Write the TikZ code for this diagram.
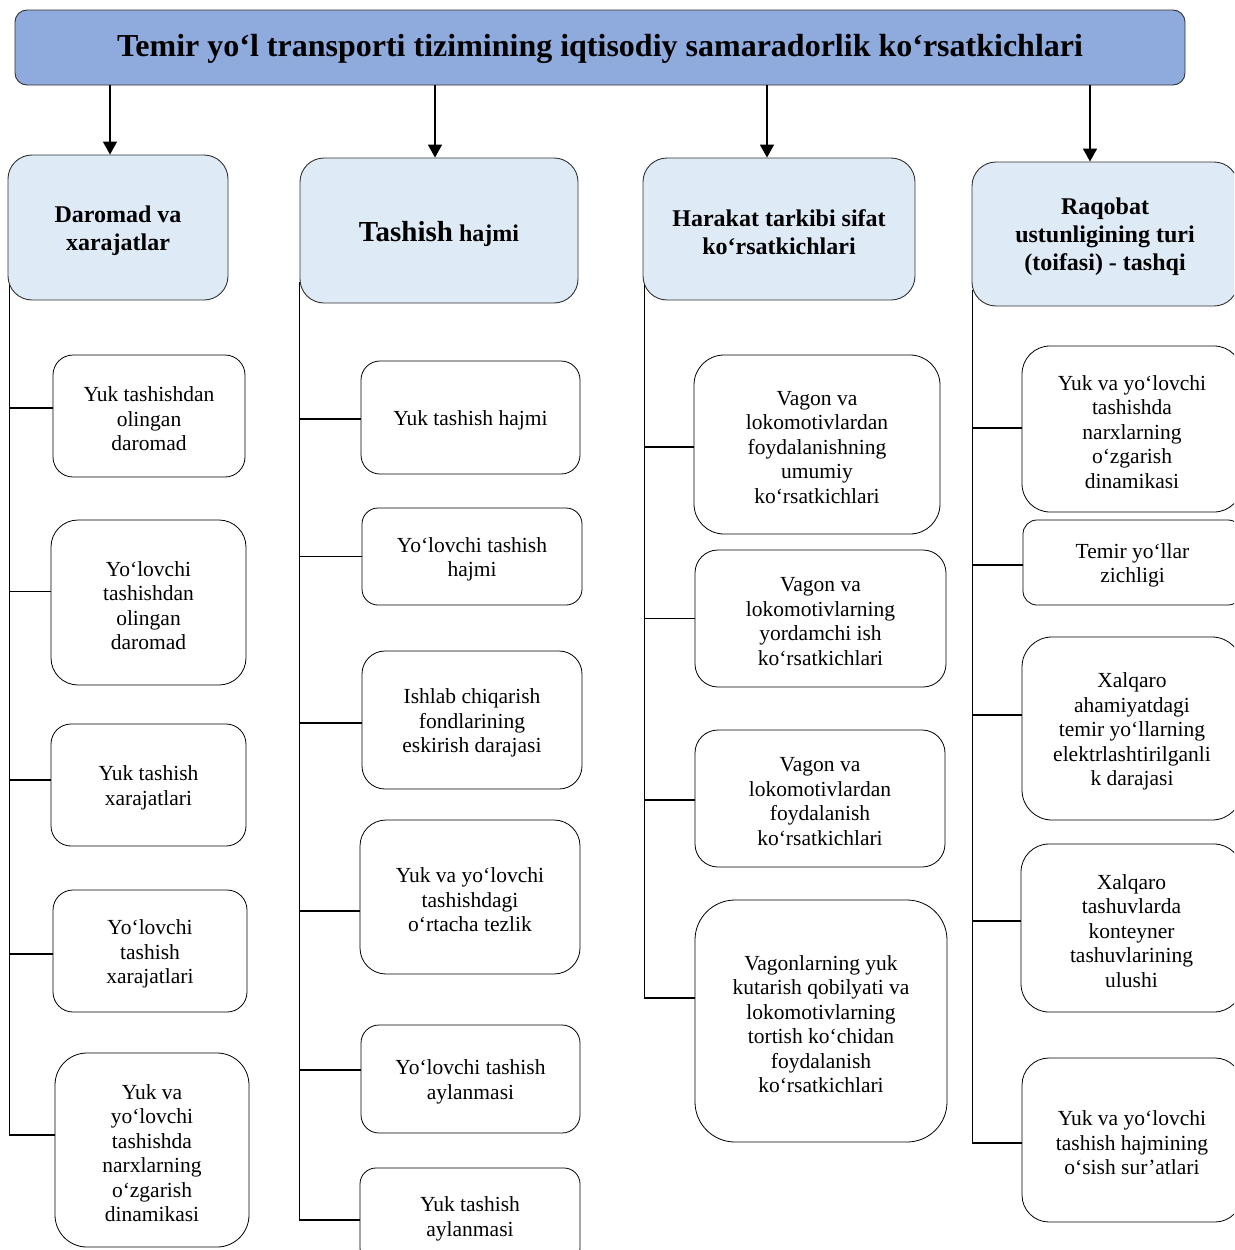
\documentclass[tikz,border=0pt]{standalone}
\usepackage{fontspec}
\setmainfont{Liberation Serif}
\usetikzlibrary{arrows.meta}
\definecolor{titleblue}{RGB}{143,170,220}
\definecolor{headblue}{RGB}{222,234,246}
\definecolor{edgegray}{RGB}{50,50,50}
\tikzset{
  leaf/.style={draw=black, line width=0.8pt, fill=white, inner sep=0pt},
  leaftext/.style={align=center, inner sep=0pt, yshift=-3pt,
    font=\fontsize{21.5}{24.5}\selectfont},
  head/.style={draw=edgegray, line width=0.9pt, fill=headblue, inner sep=0pt},
  headtext/.style={align=center, inner sep=0pt, yshift=-3pt,
    font=\bfseries\fontsize{24}{28}\selectfont},
  titlebox/.style={draw=edgegray, line width=0.9pt, fill=titleblue, inner sep=0pt},
  titleboxtext/.style={align=center, inner sep=0pt, yshift=-1pt,
    font=\bfseries\fontsize{32}{36}\selectfont},
  conn/.style={draw=black, line width=1.6pt},
  arr/.style={draw=black, line width=1.6pt, -{Triangle[width=14pt,length=13pt]}}
}
% name, x1, y1, x2, y2, radius, style, text
\newcommand\pbox[8]{%
  \node[#7, rounded corners=#6pt, minimum width={(#4)-(#2)}, minimum height={(#5)-(#3)},
        label={[#7text]center:{#8}}]
    (#1) at ({((#2)+(#4))/2},{((#3)+(#5))/2}) {};}
\begin{document}
\begin{tikzpicture}[x=1pt,y=-1pt]
\useasboundingbox (0,0) rectangle (1234,1250);
\clip (0,0) rectangle (1234,1250);

% title
\pbox{title}{15}{10}{1185}{85}{12}{titlebox}{Temir yo‘l transporti tizimining iqtisodiy samaradorlik ko‘rsatkichlari}

% headers
\pbox{h1}{8}{155}{228}{300}{24}{head}{Daromad va\\xarajatlar}
\pbox{h2}{300}{158}{578}{303}{24}{head}{{\fontsize{29}{30}\selectfont Tashish} hajmi}
\pbox{h3}{643}{158}{915}{300}{24}{head}{Harakat tarkibi sifat\\ko‘rsatkichlari}
\pbox{h4}{972}{162}{1238}{306}{24}{head}{Raqobat\\ustunligining turi\\(toifasi) - tashqi}

% arrows
\draw[arr] ([xshift=-8pt]h1.north |- title.south) -- ([xshift=-8pt]h1.north);
\draw[arr] ([xshift=-4pt]h2.north |- title.south) -- ([xshift=-4pt]h2.north);
\draw[arr] ([xshift=-12pt]h3.north |- title.south) -- ([xshift=-12pt]h3.north);
\draw[arr] ([xshift=-15pt]h4.north |- title.south) -- ([xshift=-15pt]h4.north);

% column 1
\pbox{a1}{53}{355}{245}{477}{20}{leaf}{Yuk tashishdan\\olingan\\daromad}
\pbox{a2}{51}{520}{246}{685}{27}{leaf}{Yo‘lovchi\\tashishdan\\olingan\\daromad}
\pbox{a3}{51}{724}{246}{846}{20}{leaf}{Yuk tashish\\xarajatlari}
\pbox{a4}{53}{890}{247}{1012}{20}{leaf}{Yo‘lovchi\\tashish\\xarajatlari}
\pbox{a5}{55}{1053}{249}{1247}{32}{leaf}{Yuk va\\yo‘lovchi\\tashishda\\narxlarning\\o‘zgarish\\dinamikasi}

% column 2
\pbox{b1}{361}{361}{580}{474}{19}{leaf}{Yuk tashish hajmi}
\pbox{b2}{362}{508}{582}{605}{16}{leaf}{Yo‘lovchi tashish\\hajmi}
\pbox{b3}{362}{651}{582}{789}{23}{leaf}{Ishlab chiqarish\\fondlarining\\eskirish darajasi}
\pbox{b4}{360}{820}{580}{974}{26}{leaf}{Yuk va yo‘lovchi\\tashishdagi\\o‘rtacha tezlik}
\pbox{b5}{361}{1025}{580}{1133}{18}{leaf}{Yo‘lovchi tashish\\aylanmasi}
\pbox{b6}{360}{1168}{580}{1264}{16}{leaf}{Yuk tashish\\aylanmasi}

% column 3
\pbox{c1}{694}{355}{940}{534}{30}{leaf}{Vagon va\\lokomotivlardan\\foydalanishning\\umumiy\\ko‘rsatkichlari}
\pbox{c2}{695}{550}{946}{687}{23}{leaf}{Vagon va\\lokomotivlarning\\yordamchi ish\\ko‘rsatkichlari}
\pbox{c3}{695}{730}{945}{867}{23}{leaf}{Vagon va\\lokomotivlardan\\foydalanish\\ko‘rsatkichlari}
\pbox{c4}{695}{900}{947}{1142}{40}{leaf}{Vagonlarning yuk\\kutarish qobilyati va\\lokomotivlarning\\tortish ko‘chidan\\foydalanish\\ko‘rsatkichlari}

% column 4
\pbox{d1}{1022}{346}{1242}{512}{28}{leaf}{Yuk va yo‘lovchi\\tashishda\\narxlarning\\o‘zgarish\\dinamikasi}
\pbox{d2}{1023}{520}{1242}{605}{14}{leaf}{Temir yo‘llar\\zichligi}
\pbox{d3}{1022}{637}{1242}{820}{30}{leaf}{Xalqaro\\ahamiyatdagi\\temir yo‘llarning\\elektrlashtirilganli\\k darajasi}
\pbox{d4}{1021}{844}{1242}{1012}{28}{leaf}{Xalqaro\\tashuvlarda\\konteyner\\tashuvlarining\\ulushi}
\pbox{d5}{1022}{1058}{1242}{1222}{27}{leaf}{Yuk va yo‘lovchi\\tashish hajmining\\o‘sish sur’atlari}

% branch attachment points on the boxes
\foreach \n/\s in {a1/8,a2/11,a3/5,a4/-3,a5/15,
                   b1/-1.5,b2/0,b3/-3,b4/-14,b5/9,b6/-4,
                   c1/-2.5,c2/0,c3/-1.5,c4/23,
                   d1/1,d2/-2.5,d3/13.5,d4/7,d5/-3}
  {\coordinate (\n e) at ([yshift=\s pt]\n.west);}
% trunk tops
\coordinate (t1) at ([xshift=2pt,yshift=15pt]h1.south west);
\coordinate (t2) at ([yshift=21pt]h2.south west);
\coordinate (t3) at ([xshift=2pt,yshift=15pt]h3.south west);
\coordinate (t4) at ([xshift=1pt,yshift=16pt]h4.south west);

% trunks
\draw[conn] (t1) -- (t1 |- a5e) -- (a5e);
\draw[conn] (t2) -- (t2 |- b6e) -- (b6e);
\draw[conn] (t3) -- (t3 |- c4e) -- (c4e);
\draw[conn] (t4) -- (t4 |- d5e) -- (d5e);
% branches
\foreach \n in {a1,a2,a3,a4}{\draw[conn] (t1 |- \n e) -- (\n e);}
\foreach \n in {b1,b2,b3,b4,b5}{\draw[conn] (t2 |- \n e) -- (\n e);}
\foreach \n in {c1,c2,c3}{\draw[conn] (t3 |- \n e) -- (\n e);}
\foreach \n in {d1,d2,d3,d4}{\draw[conn] (t4 |- \n e) -- (\n e);}
\end{tikzpicture}
\end{document}
